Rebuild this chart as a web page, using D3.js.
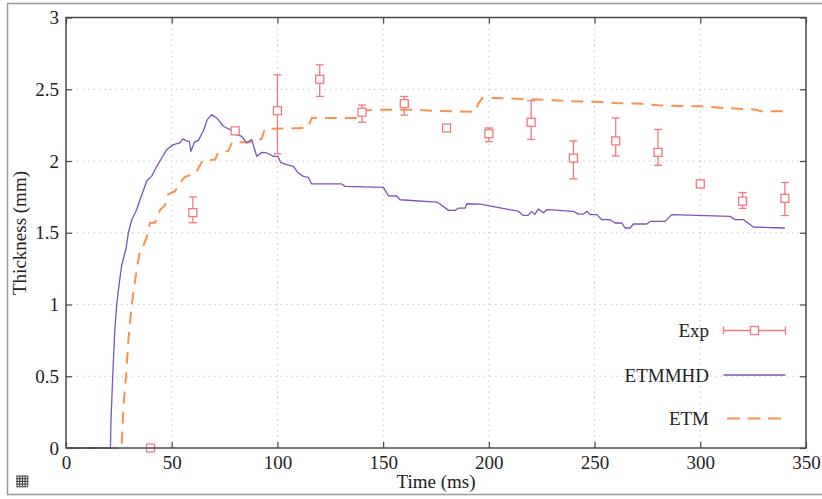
<!DOCTYPE html>
<html>
<head>
<meta charset="utf-8">
<script src="https://cdn.jsdelivr.net/npm/d3@7"></script>
<style>
  html, body { margin: 0; padding: 0; background: #fff; }
  svg { display: block; }
  svg text { font-family: "Liberation Serif", "Times New Roman", serif !important; fill: #222; }
</style>
</head>
<body>
<svg id="chart" width="822" height="499"></svg>
<script>
// Experimental thickness measurements (mean with error bar limits)
const expTime = [40, 60, 80, 100, 120, 140, 160, 180, 200, 220, 240, 260, 280, 300, 320, 340];
const expMean = [0, 1.64, 2.21, 2.35, 2.57, 2.34, 2.40, 2.23, 2.19, 2.27, 2.02, 2.14, 2.06, 1.84, 1.72, 1.74];
const expLow  = [0, 1.57, 2.19, 2.05, 2.45, 2.27, 2.32, 2.21, 2.135, 2.15, 1.875, 2.035, 1.97, 1.82, 1.67, 1.62];
const expHigh = [0, 1.75, 2.23, 2.60, 2.67, 2.39, 2.45, 2.25, 2.23, 2.42, 2.14, 2.30, 2.22, 1.865, 1.78, 1.85];

// ETMMHD simulation
const mhdTime = [0, 21, 21.3, 22.1, 23, 24, 25.2, 26.3, 28.4, 29.5, 31.1, 33.4, 35, 38.2, 40.5, 42.9, 45.3, 47.6,
  50.8, 53.9, 55.2, 57, 58.3, 59.1, 60.7, 62.6, 64.9, 66.8, 68.9, 71.3, 74.4, 77.6, 80.7, 83.1, 85.5, 87.8,
  90.2, 92.6, 94.9, 98.1, 100.4, 101.5, 104.4, 107.5, 109.9, 112.3, 114.6, 116.2, 130.4, 132, 150.1, 152.5,
  156.4, 158, 175.3, 176.9, 180.9, 184.1, 185.7, 188.8, 189.6, 195.9, 208.5, 214, 216.3, 218.6, 220.2, 221.7,
  223.4, 225.8, 227.4, 240, 242.4, 244.8, 246.4, 247.9, 251.1, 253.4, 257.3, 259.7, 262.9, 264.4, 266.8,
  268.4, 274.7, 276.3, 283.4, 286.5, 314.1, 316.5, 320.5, 325.1, 340];
const mhdThick = [0, 0, 0.2, 0.5, 0.8, 1.0, 1.15, 1.27, 1.39, 1.5, 1.59, 1.66, 1.73, 1.86, 1.893, 1.963, 2.021, 2.079,
  2.114, 2.126, 2.154, 2.14, 2.137, 2.067, 2.131, 2.144, 2.207, 2.288, 2.323, 2.3, 2.242, 2.219, 2.184, 2.172, 2.126, 2.15,
  2.033, 2.06, 2.056, 2.033, 2.03, 1.99, 1.974, 1.963, 1.916, 1.893, 1.886, 1.84, 1.84, 1.823, 1.816, 1.758,
  1.756, 1.73, 1.714, 1.70, 1.656, 1.656, 1.672, 1.672, 1.702, 1.70, 1.665, 1.65, 1.621, 1.621, 1.649, 1.628,
  1.665, 1.64, 1.661, 1.649, 1.63, 1.63, 1.65, 1.626, 1.626, 1.591, 1.591, 1.568, 1.568, 1.533, 1.533,
  1.561, 1.561, 1.579, 1.579, 1.626, 1.614, 1.591, 1.591, 1.54, 1.533];

// ETM simulation
const etmTime = [0, 26.3, 27.2, 28.4, 29.5, 31.1, 33, 35, 36.6, 38.2, 39.7, 42.1, 44.5, 46.8, 48.4, 51.6, 53.9, 56.3,
  58.5, 61, 62.6, 64.5, 70.5, 72, 76.8, 78.5, 88.6, 92.6, 94, 110, 114.6, 116.2, 138, 139.5, 148.5, 163.6,
  173.8, 193.5, 195, 197, 208.5, 220, 231, 240, 251, 259.7, 270, 280.2, 289.7, 300, 311, 319.6, 326.7, 328.3, 340];
const etmThick = [0, 0, 0.3, 0.5, 0.75, 1.0, 1.2, 1.38, 1.41, 1.47, 1.57, 1.57, 1.66, 1.69, 1.77, 1.79, 1.85, 1.89,
  1.90, 1.905, 1.95, 2.0, 2.01, 2.06, 2.07, 2.13, 2.13, 2.155, 2.225, 2.228, 2.235, 2.30, 2.30, 2.35, 2.358, 2.358,
  2.349, 2.342, 2.40, 2.44, 2.436, 2.43, 2.423, 2.416, 2.413, 2.405, 2.40, 2.388, 2.383, 2.381, 2.37, 2.363, 2.358, 2.346, 2.346];

const xTicks = [0, 50, 100, 150, 200, 250, 300, 350];
const yTicks = [0, 0.5, 1, 1.5, 2, 2.5, 3];
const seriesNames = ["Exp", "ETMMHD", "ETM"];

const colExp = "#f07a80", colMhd = "#7a55b5", colEtm = "#f8924e";

const svg = d3.select("#chart");
const x = d3.scaleLinear().domain([0, 350]).range([66, 806]);
const y = d3.scaleLinear().domain([0, 3]).range([448, 17.5]);

// outer canvas border
svg.append("rect").attr("x", 7.5).attr("y", 3.5).attr("width", 830).attr("height", 491)
  .attr("fill", "none").attr("stroke", "#999").attr("stroke-width", 1.5);

// dotted grid
const grid = svg.append("g").attr("stroke", "#c8c8c8").attr("stroke-width", 1).attr("stroke-dasharray", "1.5,4");
grid.selectAll(".gx").data(xTicks.slice(1, -1)).join("line")
  .attr("x1", d => x(d)).attr("x2", d => x(d)).attr("y1", y(0)).attr("y2", y(3));
grid.selectAll(".gy").data(yTicks.slice(1, -1)).join("line")
  .attr("y1", d => y(d)).attr("y2", d => y(d)).attr("x1", x(0)).attr("x2", x(350));

// axes with inward ticks, mirrored on the opposite sides
const fmt = d => d3.format("~g")(d);
const axB = svg.append("g").attr("transform", `translate(0,${y(0)})`)
  .call(d3.axisBottom(x).tickValues(xTicks).tickSizeInner(-6).tickSizeOuter(0).tickPadding(12).tickFormat(fmt));
const axT = svg.append("g").attr("transform", `translate(0,${y(3)})`)
  .call(d3.axisTop(x).tickValues(xTicks).tickSizeInner(-6).tickSizeOuter(0).tickFormat(""));
const axL = svg.append("g").attr("transform", `translate(${x(0)},0)`)
  .call(d3.axisLeft(y).tickValues(yTicks).tickSizeInner(-6).tickSizeOuter(0).tickPadding(12).tickFormat(fmt));
const axR = svg.append("g").attr("transform", `translate(${x(350)},0)`)
  .call(d3.axisRight(y).tickValues(yTicks).tickSizeInner(-6).tickSizeOuter(0).tickFormat(""));
[axB, axT, axL, axR].forEach(a => {
  a.attr("font-family", null).attr("font-size", null);
  a.select(".domain").remove();
  a.selectAll("line").attr("stroke", "#444").attr("stroke-width", 1.2);
  a.selectAll("text").style("font-size", "19px").attr("fill", "#222");
});
axB.selectAll("text").attr("dy", "0.71em").attr("y", 8);
axL.selectAll("text").attr("x", -7);

// lines
const line = d3.line().x(d => x(d[0])).y(d => y(d[1]));
svg.append("path").datum(etmTime.map((t, i) => [t, etmThick[i]]))
  .attr("d", line).attr("fill", "none").attr("stroke", colEtm).attr("stroke-width", 2)
  .attr("stroke-dasharray", "12,8");
svg.append("path").datum(mhdTime.map((t, i) => [t, mhdThick[i]]))
  .attr("d", line).attr("fill", "none").attr("stroke", colMhd).attr("stroke-width", 1.3)
  .attr("stroke-linejoin", "round");

// experimental points with error bars
const exp = expTime.map((t, i) => ({ t, m: expMean[i], lo: expLow[i], hi: expHigh[i] }));
const eg = svg.append("g").attr("stroke", colExp).attr("stroke-width", 1.3).attr("fill", "none");
const bars = exp.filter(d => d.hi > d.lo);
eg.selectAll(".v").data(bars).join("line")
  .attr("x1", d => x(d.t)).attr("x2", d => x(d.t)).attr("y1", d => y(d.lo)).attr("y2", d => y(d.hi));
eg.selectAll(".ct").data(bars).join("line")
  .attr("x1", d => x(d.t) - 4).attr("x2", d => x(d.t) + 4).attr("y1", d => y(d.hi)).attr("y2", d => y(d.hi));
eg.selectAll(".cb").data(bars).join("line")
  .attr("x1", d => x(d.t) - 4).attr("x2", d => x(d.t) + 4).attr("y1", d => y(d.lo)).attr("y2", d => y(d.lo));
eg.selectAll("rect").data(exp).join("rect")
  .attr("x", d => x(d.t) - 4).attr("y", d => y(d.m) - 4).attr("width", 8).attr("height", 8)
  .attr("fill", "#fff");

// plot frame
svg.append("rect").attr("x", x(0)).attr("y", y(3)).attr("width", x(350) - x(0)).attr("height", y(0) - y(3))
  .attr("fill", "none").attr("stroke", "#4a4a4a").attr("stroke-width", 1.5);

// axis titles
svg.append("text").attr("x", 436).attr("y", 488).attr("text-anchor", "middle")
  .style("font-size", "19px").text("Time (ms)");
svg.append("text").attr("transform", "translate(26,233) rotate(-90)").attr("text-anchor", "middle")
  .style("font-size", "19px").text("Thickness (mm)");

// legend
const lg = svg.append("g");
const rows = [330.5, 375, 418.5];
seriesNames.forEach((name, i) => {
  lg.append("text").attr("x", 709).attr("y", rows[i]).attr("dy", "0.35em").attr("text-anchor", "end")
    .style("font-size", "19px").text(name);
});
lg.append("line").attr("x1", 723.5).attr("x2", 785.5).attr("y1", rows[0]).attr("y2", rows[0])
  .attr("stroke", colExp).attr("stroke-width", 1.3);
[723.5, 785.5].forEach(px => lg.append("line").attr("x1", px).attr("x2", px)
  .attr("y1", rows[0] - 4).attr("y2", rows[0] + 4).attr("stroke", colExp).attr("stroke-width", 1.3));
lg.append("rect").attr("x", 750.5).attr("y", rows[0] - 4).attr("width", 8).attr("height", 8)
  .attr("fill", "#fff").attr("stroke", colExp).attr("stroke-width", 1.3);
lg.append("line").attr("x1", 723.5).attr("x2", 785.5).attr("y1", rows[1]).attr("y2", rows[1])
  .attr("stroke", colMhd).attr("stroke-width", 1.3);
lg.append("line").attr("x1", 727).attr("x2", 781).attr("y1", rows[2]).attr("y2", rows[2])
  .attr("stroke", colEtm).attr("stroke-width", 2).attr("stroke-dasharray", "13,7.5");

// small grid toggle glyph in the corner
const gi = svg.append("g").attr("stroke", "#333").attr("stroke-width", 1);
[17, 19.7, 22.4, 25.1, 27.8].forEach(v => {
  gi.append("line").attr("x1", v).attr("x2", v).attr("y1", 476).attr("y2", 486.5);
  gi.append("line").attr("y1", v + 459).attr("y2", v + 459).attr("x1", 16.5).attr("x2", 27.8);
});
</script>
</body>
</html>
